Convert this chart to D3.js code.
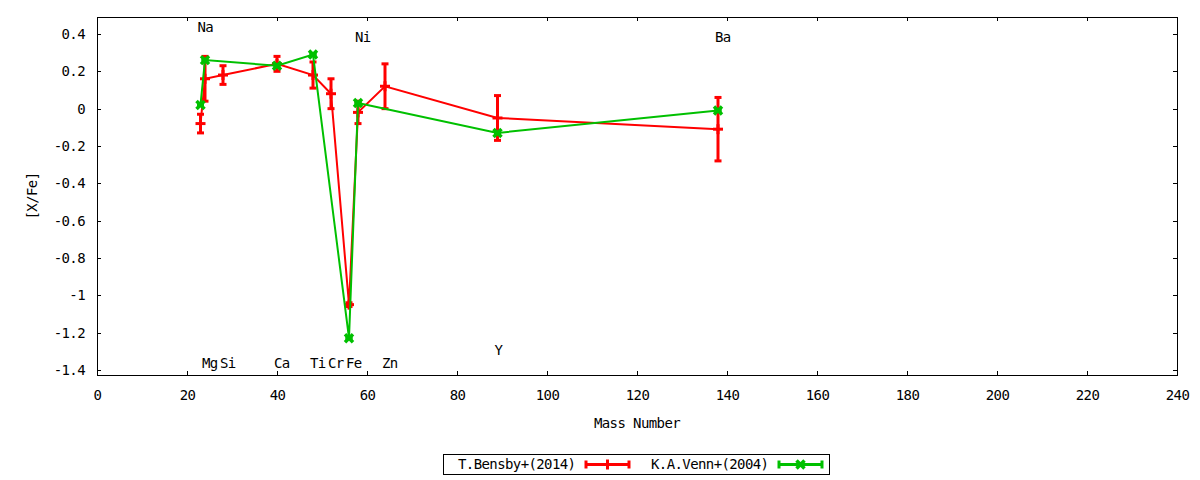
<!DOCTYPE html>
<html>
<head>
<meta charset="utf-8">
<script src="https://cdn.jsdelivr.net/npm/d3@7"></script>
<style>
  body { margin: 0; background: #fff; }
  text { font-family: "DejaVu Sans Mono", monospace; font-size: 14px; letter-spacing: -0.6px; fill: #000; }
</style>
</head>
<body>
<div id="chart"></div>
<script>
// T.Bensby+(2014)
const bensbyMass = [23, 24, 28, 40, 48, 52, 56, 58, 64, 89, 138];
const bensbyValues = [-0.08, 0.16, 0.18, 0.24, 0.18, 0.08, -1.05, -0.02, 0.12, -0.05, -0.11];
const bensbyErrors = [0.05, 0.12, 0.05, 0.04, 0.07, 0.08, 0.01, 0.06, 0.12, 0.12, 0.17];

// K.A.Venn+(2004)
const vennMass = [23, 24, 40, 48, 56, 58, 89, 138];
const vennValues = [0.02, 0.26, 0.23, 0.29, -1.23, 0.03, -0.13, -0.01];
const vennErrors = [0, 0, 0, 0, 0, 0, 0, 0];

// element labels (placed in data coordinates)
const labelNames = ["Na", "Mg", "Si", "Ca", "Ti", "Cr", "Fe", "Ni", "Zn", "Y", "Ba"];
const labelMass = [23, 24, 28, 40, 48, 52, 56, 58, 64, 89, 138];
const labelValues = [0.435, -1.365, -1.365, -1.365, -1.365, -1.365, -1.365, 0.385, -1.365, -1.295, 0.385];

const xTicks = [0, 20, 40, 60, 80, 100, 120, 140, 160, 180, 200, 220, 240];
const yTicks = [-1.4, -1.2, -1, -0.8, -0.6, -0.4, -0.2, 0, 0.2, 0.4];

var margin = {left: 97, right: 1177, top: 17, bottom: 375};

var svg = d3.select("#chart").append("svg")
    .attr("width", 1200)
    .attr("height", 480);

svg.append("rect").attr("width", 1200).attr("height", 480).attr("fill", "#fff");

var x = d3.scaleLinear().domain([0, 240]).range([margin.left, margin.right]);
var y = d3.scaleLinear().domain([-1.427, 0.491]).range([margin.bottom, margin.top]);

function fmt(d) {
    return String(Math.round(d * 10) / 10);
}

function styleAxis(g) {
    g.select(".domain").remove();
    g.attr("font-family", null).attr("font-size", null);
    g.selectAll("line").attr("stroke", "#000").attr("shape-rendering", "crispEdges");
}

// axes with inward ticks, mirrored on top and right
svg.append("g")
    .attr("transform", "translate(0," + margin.bottom + ")")
    .call(d3.axisBottom(x).tickValues(xTicks).tickFormat(fmt).tickSizeInner(-4).tickSizeOuter(0).tickPadding(15))
    .call(styleAxis);
svg.append("g")
    .attr("transform", "translate(0," + margin.top + ")")
    .call(d3.axisTop(x).tickValues(xTicks).tickFormat("").tickSizeInner(-4).tickSizeOuter(0))
    .call(styleAxis);
svg.append("g")
    .attr("transform", "translate(" + margin.left + ",0)")
    .call(d3.axisLeft(y).tickValues(yTicks).tickFormat(fmt).tickSizeInner(-4).tickSizeOuter(0).tickPadding(12))
    .call(styleAxis);
svg.append("g")
    .attr("transform", "translate(" + margin.right + ",0)")
    .call(d3.axisRight(y).tickValues(yTicks).tickFormat("").tickSizeInner(-4).tickSizeOuter(0))
    .call(styleAxis);

svg.append("rect")
    .attr("x", margin.left + 0.5)
    .attr("y", margin.top + 0.5)
    .attr("width", margin.right - margin.left)
    .attr("height", margin.bottom - margin.top)
    .attr("fill", "none")
    .attr("stroke", "#000")
    .attr("shape-rendering", "crispEdges");

// axis titles
svg.append("text")
    .attr("transform", "translate(32," + (margin.top + margin.bottom) / 2 + ") rotate(-90)")
    .attr("text-anchor", "middle")
    .attr("dy", "0.35em")
    .text("[X/Fe]");
svg.append("text")
    .attr("x", (margin.left + margin.right) / 2)
    .attr("y", 423)
    .attr("text-anchor", "middle")
    .attr("dy", "0.35em")
    .text("Mass Number");

// element labels
labelNames.forEach(function(name, k) {
    svg.append("text")
        .attr("x", x(labelMass[k]) - 3)
        .attr("y", y(labelValues[k]))
        .attr("dy", "0.35em")
        .text(name);
});

function plus(g, cx, cy, color) {
    g.append("line").attr("x1", cx - 5).attr("x2", cx + 5).attr("y1", cy).attr("y2", cy)
        .attr("stroke", color).attr("stroke-width", 3);
    g.append("line").attr("x1", cx).attr("x2", cx).attr("y1", cy - 5).attr("y2", cy + 5)
        .attr("stroke", color).attr("stroke-width", 3);
}

function cross(g, cx, cy, color) {
    g.append("path")
        .attr("d", "M" + (cx - 4) + "," + (cy - 4) + "L" + (cx + 4) + "," + (cy + 4) +
                   "M" + (cx - 4) + "," + (cy + 4) + "L" + (cx + 4) + "," + (cy - 4))
        .attr("stroke", color).attr("stroke-width", 3.5).attr("fill", "none");
}

function errorbar(g, cx, lo, hi, color) {
    g.append("line").attr("x1", cx).attr("x2", cx).attr("y1", lo).attr("y2", hi)
        .attr("stroke", color).attr("stroke-width", 3);
    [lo, hi].forEach(function(v) {
        g.append("line").attr("x1", cx - 3.5).attr("x2", cx + 3.5).attr("y1", v).attr("y2", v)
            .attr("stroke", color).attr("stroke-width", 3);
    });
}

function drawSeries(mass, values, errors, color, marker) {
    var g = svg.append("g");
    var pts = mass.map(function(m, k) { return [m, values[k], errors[k]]; });
    pts.forEach(function(p) {
        errorbar(g, x(p[0]), y(p[1] - p[2]), y(p[1] + p[2]), color);
    });
    g.append("path")
        .datum(pts)
        .attr("fill", "none")
        .attr("stroke", color)
        .attr("stroke-width", 2)
        .attr("d", d3.line().x(function(p) { return x(p[0]); }).y(function(p) { return y(p[1]); }));
    pts.forEach(function(p) {
        marker(g, x(p[0]), y(p[1]), color);
    });
}

drawSeries(bensbyMass, bensbyValues, bensbyErrors, "#ff0000", plus);
drawSeries(vennMass, vennValues, vennErrors, "#00c000", cross);

// legend
var legend = svg.append("g");
legend.append("rect")
    .attr("x", 443.5).attr("y", 454.5).attr("width", 386).attr("height", 20)
    .attr("fill", "none").attr("stroke", "#000").attr("shape-rendering", "crispEdges");

function legendEntry(label, tx, sx, color, marker) {
    var cy = 464.5;
    legend.append("text").attr("x", tx).attr("y", cy).attr("dy", "0.35em").text(label);
    legend.append("line").attr("x1", sx).attr("x2", sx + 43).attr("y1", cy).attr("y2", cy)
        .attr("stroke", color).attr("stroke-width", 3);
    [sx, sx + 43].forEach(function(v) {
        legend.append("line").attr("x1", v).attr("x2", v).attr("y1", cy - 4).attr("y2", cy + 4)
            .attr("stroke", color).attr("stroke-width", 3);
    });
    marker(legend, sx + 21.5, cy, color);
}
legendEntry("T.Bensby+(2014)", 458, 586, "#ff0000", plus);
legendEntry("K.A.Venn+(2004)", 651, 779, "#00c000", cross);
</script>
</body>
</html>
